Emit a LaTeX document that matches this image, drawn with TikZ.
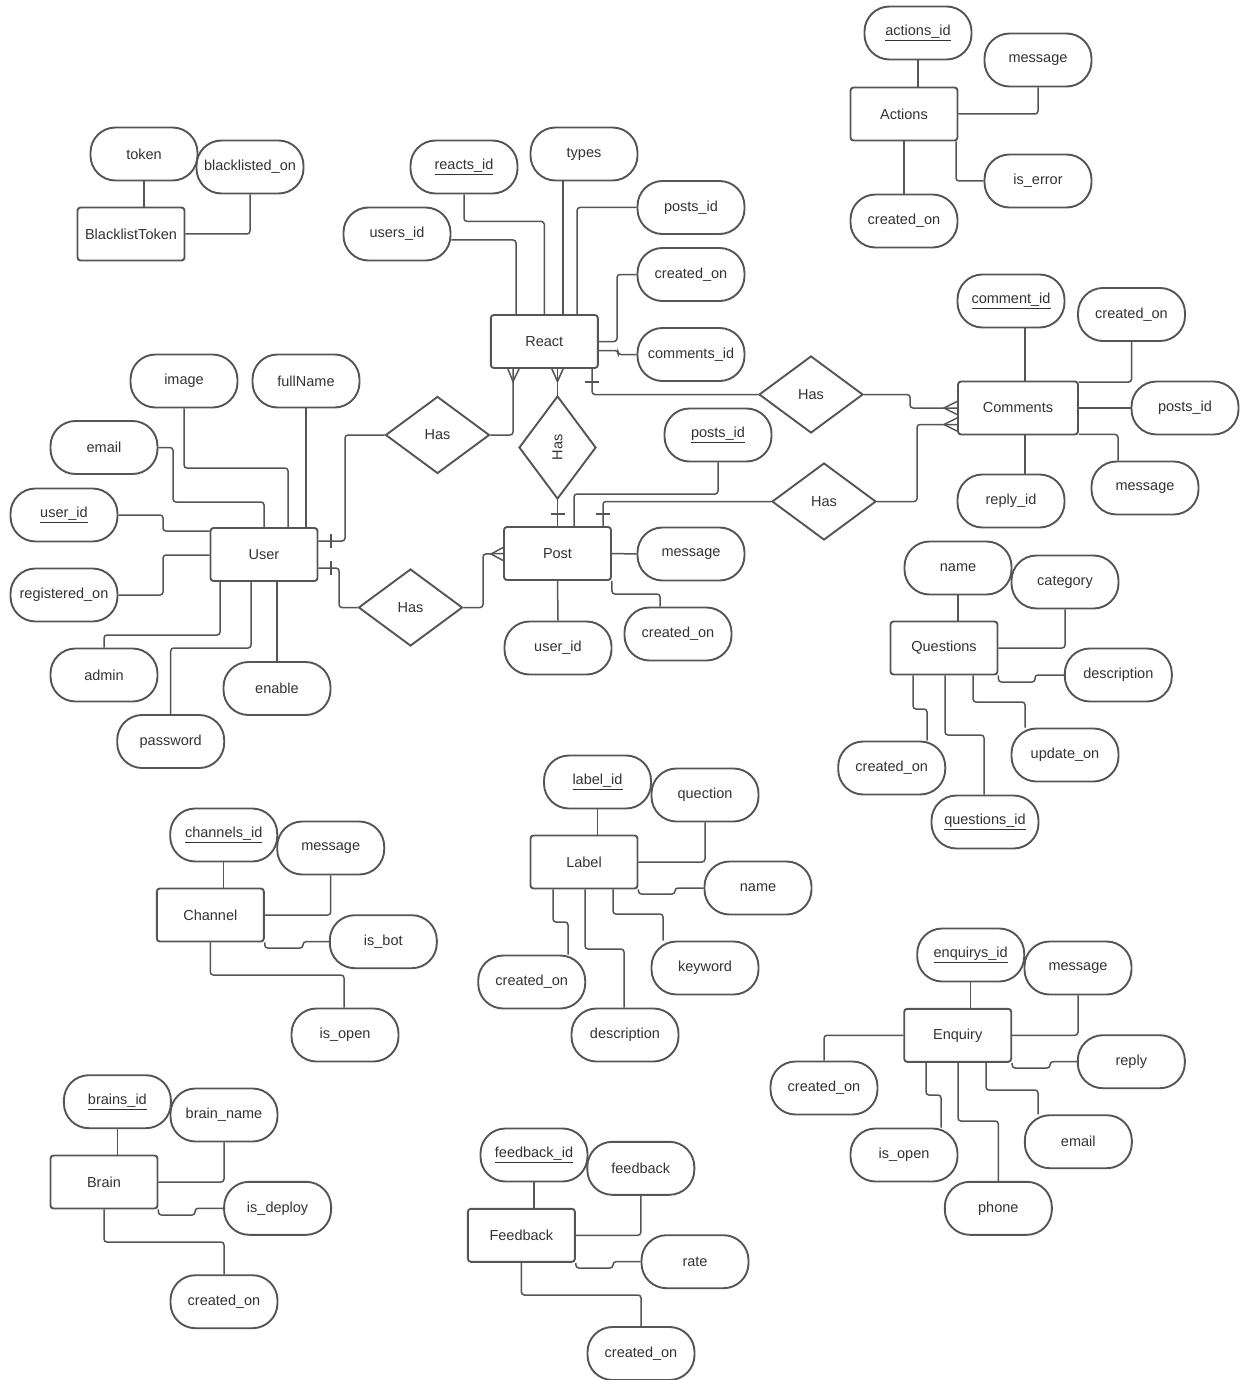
\documentclass[tikz,border=0pt]{standalone}
\usepackage{fontspec}
\setmainfont{Liberation Sans}
\usepackage{graphicx}
\usetikzlibrary{shapes.geometric}
\definecolor{linec}{HTML}{555555}
\definecolor{txt}{HTML}{333333}
\tikzset{
  base/.style={draw=linec, line width=1.9pt, text=txt, font=\fontsize{14.5}{17}\selectfont,
    inner sep=0pt, minimum width=107pt, minimum height=53pt},
  attr/.style={base, rounded corners=25pt},
  ent/.style={base, rounded corners=3pt},
  rel/.style={base, diamond, minimum width=104pt, minimum height=77pt},
  relv/.style={rel, minimum width=77pt, minimum height=103pt},
  conn/.style={draw=linec, line width=1.5pt, rounded corners=3pt},
  erm/.style={draw=linec, line width=1.5pt}
}
\begin{document}
\begin{tikzpicture}[x=1pt,y=-1pt]
\useasboundingbox (0,0) rectangle (1242,1380);
\fill[white] (0,0) rectangle (1242,1380);

% ---------- Actions ----------
\node[attr] (acid) at (918,33) {\underline{actions\_id}};
\node[attr] (acmsg) at (1038,60) {message};
\node[ent] (actions) at (904,114) {Actions};
\node[attr] (acerr) at (1038,181) {is\_error};
\node[attr] (accr) at (904,221) {created\_on};
\draw[conn] (acid.south) -- (acid.south |- actions.north);
\draw[conn] (actions.east) -| (acmsg.south);
\draw[conn] (956,0 |- actions.south) |- (acerr.west);
\draw[conn] (actions.south) -- (accr.north);

% ---------- BlacklistToken ----------
\node[attr] (token) at (144,154) {token};
\node[attr] (blon) at (250,167) {blacklisted\_on};
\node[ent] (bt) at (131,234) {BlacklistToken};
\draw[conn] (token.south) -- (token.south |- bt.north);
\draw[conn] (bt.east) -| (blon.south);

% ---------- React ----------
\node[attr] (reactsid) at (464,167) {\underline{reacts\_id}};
\node[attr] (types) at (584,154) {types};
\node[attr] (usersid) at (397,234) {users\_id};
\node[attr] (rpostsid) at (691,207.5) {posts\_id};
\node[attr] (rcreated) at (691,274.5) {created\_on};
\node[attr] (rcommid) at (691,354.5) {comments\_id};
\node[ent] (react) at (544.3,341.5) {React};
\draw[conn] ([yshift=-6pt]usersid.east) -| (516,0 |- react.north);
\draw[conn] (reactsid.south) -- ++(0,27) -| (react.north);
\draw[conn] (563,0 |- types.south) -- (563,0 |- react.north);
\draw[conn] (rpostsid.west) -| (577,0 |- react.north);
\draw[conn] (react.east) -| (617,0 |- rcreated.west) -- (rcreated.west);
\draw[conn] ([yshift=-9pt]react.east) -| (618,0 |- rcommid.west) -- (rcommid.west);

% ---------- User ----------
\node[ent] (user) at (264,554.5) {User};
\node[attr] (image) at (184,381) {image};
\node[attr] (fullname) at (306,381) {fullName};
\node[attr] (email) at (104,447.5) {email};
\node[attr] (uid) at (64,515) {\underline{user\_id}};
\node[attr] (regon) at (64,595) {registered\_on};
\node[attr] (admin) at (104,675) {admin};
\node[attr] (enable) at (277,688.5) {enable};
\node[attr] (password) at (170.7,741.5) {password};
\draw[conn] (image.south) |- (288,468) -- (288,0 |- user.north);
\draw[conn] (fullname.south) -- (fullname.south |- user.north);
\draw[conn] (email.east) -| (173,502) -| (user.north);
\draw[conn] (uid.east) -| (163,531) -- (user.west |- 0,531);
\draw[conn] (regon.east) -| (163,555) -- (user.west |- 0,555);
\draw[conn] (admin.north) |- (220,635) -- (220,0 |- user.south);
\draw[conn] (password.north) |- (251,648) -- (251,0 |- user.south);
\draw[conn] (enable.north) -- (enable.north |- user.south);

% ---------- Post ----------
\node[ent] (post) at (557.5,553.5) {Post};
\node[attr] (ppostsid) at (718,435) {\underline{posts\_id}};
\node[attr] (pmsg) at (691,554) {message};
\node[attr] (pcreated) at (678,634) {created\_on};
\node[attr] (puid) at (558,648) {user\_id};
\draw[conn] (ppostsid.south) |- (574,494) -- (574,0 |- post.north);
\draw[conn] (post.east) -- (pmsg.west);
\draw[conn] (post.south east) |- (660,594) -- (660,0 |- pcreated.north);
\draw[conn] (post.south) -- (puid.north);

% ---------- Comments ----------
\node[ent, minimum width=120pt] (comments) at (1018,408) {Comments};
\node[attr] (commid) at (1011,301) {\underline{comment\_id}};
\node[attr] (ccreated) at (1131.5,314.5) {created\_on};
\node[attr] (cpostsid) at (1185,408) {posts\_id};
\node[attr] (replyid) at (1011,501) {reply\_id};
\node[attr] (cmsg) at (1145,488) {message};
\draw[conn] (1025,0 |- commid.south) -- (1025,0 |- comments.north);
\draw[conn] ([yshift=-1.5pt]comments.north east) -| (ccreated.south);
\draw[conn] (comments.east) -- (cpostsid.west);
\draw[conn] (1025,0 |- comments.south) -- (1025,0 |- replyid.north);
\draw[conn] ([yshift=1pt]comments.south east) -| (1118,0 |- cmsg.north);

% ---------- Relationships ----------
\node[rel] (has1) at (437.5,435) {Has};
\node[relv] (has2) at (557.5,447.5) {\rotatebox{90}{Has}};
\node[rel] (has3) at (811,394.5) {Has};
\node[rel] (has4) at (824,501.5) {Has};
\node[rel] (has5) at (410.5,607.5) {Has};

\draw[conn] (has1.east) -| (513,0 |- react.south);
\draw[conn] (has1.west) -| (345,541) -- (user.east |- 0,541);
\draw[conn] (has2.north) -- (has2.north |- react.south);
\draw[conn] (has2.south) -- (has2.south |- post.north);
\draw[conn] (has3.west) -| (592,0 |- react.south);
\draw[conn] (has3.east) -| (910,408) -- (comments.west |- 0,408);
\draw[conn] (has4.west) -| (603,0 |- post.north);
\draw[conn] (has4.east) -| (917,424.5) -- (comments.west |- 0,424.5);
\draw[conn] (has5.west) -| (339,568) -- (user.east |- 0,568);
\draw[conn] (has5.east) -| (483,554) -- (post.west);

% cardinality marks
\draw[erm] (507.5,368) -- (513,381.5) -- (519.5,368);
\draw[erm] (551.5,368) -- (557.5,381.5) -- (563.5,368);
\draw[erm] (585,382) -- (599,382);
\draw[erm] (331,534) -- (331,548);
\draw[erm] (331,561) -- (331,575);
\draw[erm] (550.5,514) -- (564.5,514);
\draw[erm] (596,514) -- (610,514);
\draw[erm] (504,547) -- (491,554) -- (504,561);
\draw[erm] (958,401) -- (944,408) -- (958,415);
\draw[erm] (958,417.5) -- (944,424.5) -- (958,431.5);

% ---------- Questions ----------
\node[ent] (questions) at (944,648) {Questions};
\node[attr] (qname) at (958,568) {name};
\node[attr] (qcat) at (1065,582) {category};
\node[attr] (qdesc) at (1118.3,675) {description};
\node[attr] (qcreated) at (891.7,768) {created\_on};
\node[attr] (qupdate) at (1065,755) {update\_on};
\node[attr] (qid) at (985,822) {\underline{questions\_id}};
\draw[conn] (qname.south) -- (qname.south |- questions.north);
\draw[conn] (questions.east) -| (qcat.south);
\draw[conn] (questions.south east) |- (1035,682) |- (qdesc.west);
\draw[conn] (913,0 |- questions.south) |- (927,709) -- (927,0 |- qcreated.north);
\draw[conn] (945,0 |- questions.south) |- (984,735) -- (984,0 |- qid.north);
\draw[conn] (973,0 |- questions.south) |- (1025,702) -- (1025,0 |- qupdate.north);

% ---------- Label ----------
\node[ent] (label) at (584,862) {Label};
\node[attr] (lid) at (597.5,782) {\underline{label\_id}};
\node[attr] (lquec) at (705,795) {quection};
\node[attr] (lname) at (758,888) {name};
\node[attr] (lkey) at (705,968) {keyword};
\node[attr] (lcreated) at (531.7,982) {created\_on};
\node[attr] (ldesc) at (625,1035) {description};
\draw[conn] (lid.south) -- (lid.south |- label.north);
\draw[conn] (label.east) -| (lquec.south);
\draw[conn] (label.south east) |- (675,894) |- (lname.west);
\draw[conn] (553,0 |- label.south) |- (568,922) -- (568,0 |- lcreated.north);
\draw[conn] (585,0 |- label.south) |- (624,949) -- (624,0 |- ldesc.north);
\draw[conn] (613,0 |- label.south) |- (663,914) -- (663,0 |- lkey.north);

% ---------- Channel ----------
\node[ent] (channel) at (210.3,915) {Channel};
\node[attr] (chid) at (223.7,835) {\underline{channels\_id}};
\node[attr] (chmsg) at (330.7,848) {message};
\node[attr] (chbot) at (383.3,941.7) {is\_bot};
\node[attr] (chopen) at (345,1035) {is\_open};
\draw[conn] (chid.south) -- (chid.south |- channel.north);
\draw[conn] (channel.east) -| (chmsg.south);
\draw[conn] (channel.south east) |- (303,948) |- (chbot.west);
\draw[conn] (channel.south) |- (344,975) -- (344,0 |- chopen.north);

% ---------- Enquiry ----------
\node[ent] (enquiry) at (957.7,1035.3) {Enquiry};
\node[attr] (enqid) at (970.7,955) {\underline{enquirys\_id}};
\node[attr] (emsg) at (1078,968) {message};
\node[attr] (ereply) at (1131.3,1061.7) {reply};
\node[attr] (ecreated) at (824,1088) {created\_on};
\node[attr] (eopen) at (904,1155) {is\_open};
\node[attr] (ephone) at (998.3,1208.3) {phone};
\node[attr] (eemail) at (1078.3,1141.7) {email};
\draw[conn] (enqid.south) -- (enqid.south |- enquiry.north);
\draw[conn] (enquiry.east) -| (emsg.south);
\draw[conn] (enquiry.south east) |- (1050,1068) |- (ereply.west);
\draw[conn] (enquiry.west) -| (ecreated.north);
\draw[conn] (926,0 |- enquiry.south) |- (941,1095) -- (941,0 |- eopen.north);
\draw[conn] (958,0 |- enquiry.south) |- (998.3,1121) -- (ephone.north);
\draw[conn] (986,0 |- enquiry.south) |- (1038,1090) -- (1038,0 |- eemail.north);

% ---------- Brain ----------
\node[ent] (brain) at (104,1182) {Brain};
\node[attr] (bid) at (117.4,1101.7) {\underline{brains\_id}};
\node[attr] (bname) at (224,1115) {brain\_name};
\node[attr] (bdeploy) at (277.6,1208.3) {is\_deploy};
\node[attr] (bcreated) at (224,1301.7) {created\_on};
\draw[conn] (bid.south) -- (bid.south |- brain.north);
\draw[conn] (brain.east) -| (bname.south);
\draw[conn] (brain.south east) |- (195,1215) |- (bdeploy.west);
\draw[conn] (brain.south) |- (224,1242) -- (bcreated.north);

% ---------- Feedback ----------
\node[ent] (feedback) at (521.4,1235.3) {Feedback};
\node[attr] (fid) at (534,1155) {\underline{feedback\_id}};
\node[attr] (ffb) at (640.8,1168.3) {feedback};
\node[attr] (frate) at (695,1261.7) {rate};
\node[attr] (fcreated) at (641,1353.5) {created\_on};
\draw[conn] (fid.south) -- (fid.south |- feedback.north);
\draw[conn] (feedback.east) -| (ffb.south);
\draw[conn] (feedback.south east) |- (613,1268) |- (frate.west);
\draw[conn] (feedback.south) |- (641,1295) -- (fcreated.north);
\end{tikzpicture}
\end{document}
